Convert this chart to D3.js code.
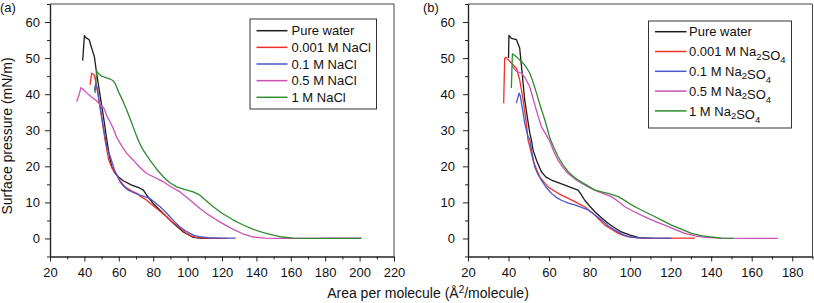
<!DOCTYPE html>
<html>
<head>
<meta charset="utf-8">
<script src="https://cdn.jsdelivr.net/npm/d3@7"></script>
<style>
  body { margin: 0; background: #fff; }
  svg { display: block; }
  text { font-family: Arial, "Liberation Sans", Helvetica, sans-serif; fill: #111; }
</style>
</head>
<body>
<div id="chart"></div>
<script>
// DATA //

// panel (a) NaCl  -- [area per molecule, surface pressure]
const waterA = [[39,49.3],[40,56.2],[41,55.6],[42.8,55.1],[44.2,52.8],[45.8,50.4],[47.1,45.8],[49,40],[51,34],[53,27.5],[54.5,23],[55.9,19.9],[57.5,18.3],[59.7,17.1],[62.6,16],[67.5,14.8],[72,14],[74.3,13.4],[76.2,12],[80,9.7],[85.9,6.9],[91.7,4.2],[97.5,1.8],[103.3,0.3],[108,0],[115,0]];
const redA = [[43.3,42.6],[44.2,45.8],[45.6,45.4],[46.4,44],[48.1,39.3],[50,33.5],[52,27.3],[54,22],[56,19.5],[58.8,17.6],[61,15.8],[63.6,14.3],[67,13.3],[70.4,12.5],[73,11.6],[76.2,10.6],[79,9.5],[82,8.3],[85,7.1],[87.8,6],[90.5,4.8],[93.6,3.7],[96.5,2.5],[99.5,1.4],[102,0.7],[105,0.3],[110,0.1],[116,0],[123,0]];
const blueA = [[45.8,41],[46.6,43],[47.5,41.5],[49,37],[51,31],[53,25.5],[55,22.7],[57.5,19],[60.7,15.7],[63,14.4],[65.5,13.4],[69,12.6],[72.3,12],[75,11.6],[78.1,11.1],[81,10],[84,8.8],[87,7.4],[89.8,6],[92.5,4.6],[95.6,3.2],[98.5,2.2],[101.4,1.4],[104,0.8],[107,0.5],[112,0.2],[120,0.1],[128,0.1]];
const pinkA = [[35.5,37.9],[37,40],[38,41.8],[39,41.5],[41,40.5],[44,39.3],[47,38.2],[50,36.8],[51.5,36],[53,34],[55,32.3],[56.8,30.5],[58.8,28],[61.5,25.8],[64.6,23.6],[68.4,21.7],[72,19.8],[76.2,18],[81,16.9],[85.9,15.7],[90,14.4],[95.6,12.9],[101,10.8],[107.2,8.3],[112,6.6],[116.9,5.1],[122,3.7],[126.6,2.5],[132,1.3],[138.2,0.4],[145,0.1],[152,0],[170,0],[185,0.1],[201,0.1]];
const greenA = [[46.2,40.3],[47.1,46.5],[48,45.8],[50,45],[52.5,44.6],[54.9,44.2],[56.5,43.8],[57.8,43],[60,40.5],[62.5,38],[64.6,35.6],[67.5,32],[70.4,28.3],[72.5,26],[74.2,24.5],[78.1,21.7],[82,19.2],[85.9,17.1],[89.5,15.5],[93.6,14.3],[98,13.6],[103.3,12.9],[107.2,12],[111,10.4],[114.9,8.8],[120,7],[126.6,5.1],[132,3.8],[138.2,2.5],[144,1.6],[149.8,0.9],[155,0.4],[161.5,0.1],[175,0],[190,0],[201,0]];

// panel (b) Na2SO4
const waterB = [[40,50],[40.2,56.3],[41.4,55.5],[43.9,55.1],[45.5,52.8],[46.4,47.7],[47.2,43],[48,38.4],[49.3,33.5],[50.5,29.2],[51.3,27.3],[52.1,24.5],[53.8,21.7],[56.2,18.5],[58.5,17],[61.2,16.2],[64.5,15.5],[67.8,14.8],[71,14.1],[74.3,13.4],[75.8,12.2],[77.6,10.6],[80,9],[82.6,7.4],[86,5.7],[89.1,4.2],[92.5,2.9],[95.7,1.8],[100,0.9],[104,0.3],[108,0.1],[111,0]];
const redB = [[37.6,37.5],[38.1,50],[38.8,50.2],[41.4,48.6],[43.9,47.2],[45.5,44],[47.2,38.4],[48.8,31.9],[49.6,27.3],[50.5,25.5],[52.1,21.7],[53.8,19.2],[55.4,17.1],[57.5,15.6],[59.5,14.3],[62.8,13.1],[66.1,12],[69.5,11.1],[72.7,10.2],[75,9.5],[77.6,8.8],[80,7.7],[82.6,6.5],[85,5.1],[87.5,3.7],[91,2.5],[94.1,1.4],[97.5,0.7],[100.7,0.3],[106,0.1],[115,0],[125,0.1],[132,0.1]];
const blueB = [[43.9,37.5],[45.2,40.3],[45.8,39.5],[47,35.5],[48,31.9],[49.5,28.5],[50.5,27.3],[51.5,24],[52.9,19.9],[54.5,17.8],[56.2,16.2],[58.5,14.2],[61.2,12.5],[63.5,11.4],[66.1,10.6],[69.5,9.8],[72.7,9.3],[76,8.6],[79.3,7.9],[82.5,6.6],[85.9,5.1],[89,3.6],[92.5,2.3],[96,1.2],[99,0.5],[104,0.2],[112,0.1],[120.4,0.1]];
const pinkB = [[41.7,47.9],[43.9,46.3],[46.4,45.8],[48,44.7],[50.5,42],[52,39],[53.5,36],[56.2,31],[58.3,29],[60.3,27],[62.3,24.2],[64.4,21.7],[66.8,19.7],[69.4,18],[72.5,16.6],[76,15.3],[79.3,14.3],[82.6,13.4],[86.5,12.5],[90.8,11.6],[94,10.3],[97.4,8.8],[102,7.4],[107.3,6],[112,4.8],[117.1,3.7],[122,2.5],[127,1.4],[132,0.7],[137,0.3],[145,0.1],[160,0],[172.8,0]];
const greenB = [[41.4,41.7],[41.9,51.2],[43.9,50.4],[45.5,49.5],[47.2,48.6],[49,47.2],[50.5,45.8],[52,43.5],[53.8,40.3],[55.8,36.5],[57.9,32.9],[60.3,28],[62.3,25.3],[64.4,22.7],[66.8,20.5],[69.4,18.5],[72,17.2],[74.3,16.2],[78.5,14.8],[82.6,13.4],[86,12.9],[89.1,12.5],[92,12],[94.1,11.6],[97.5,10.5],[100.7,9.3],[105.5,7.9],[110.6,6.5],[115.5,5.1],[120.4,3.7],[125.5,2.5],[130.3,1.4],[135,0.8],[140,0.4],[145,0.1],[151,0]];

const labelsA = ["Pure water", "0.001 M NaCl", "0.1 M NaCl", "0.5 M NaCl", "1 M NaCl"];
const labelsB = ["Pure water", "0.001 M Na2SO4", "0.1 M Na2SO4", "0.5 M Na2SO4", "1 M Na2SO4"];
const colors = ["#1c1c1c", "#f0302a", "#4a56cc", "#cc4fb8", "#2e8b2e"];

const yMajor = [0, 10, 20, 30, 40, 50, 60];
const yMinor = [-5, 5, 15, 25, 35, 45, 55, 65];
const xMajorA = [20, 40, 60, 80, 100, 120, 140, 160, 180, 200, 220];
const xMinorA = [30, 50, 70, 90, 110, 130, 150, 170, 190, 210];
const xMajorB = [20, 40, 60, 80, 100, 120, 140, 160, 180];
const xMinorB = [30, 50, 70, 90, 110, 130, 150, 170, 190];

// SETUP //

const W = 814, H = 303;
const top_ = 4, bottom_ = 256.5;
const font = 'Arial, "Liberation Sans", Helvetica, sans-serif';

let svg = d3.select("#chart")
    .append("svg")
    .attr("width", W)
    .attr("height", H);

// write text, digits right after a letter become subscripts (Na2SO4)
function subText(sel, str) {
    const parts = str.split(/(?<=[A-Za-z])(\d)/);
    parts.forEach((p, i) => {
        if (p === "") return;
        if (i % 2 === 1) {
            sel.append("tspan").attr("dy", 3.5).attr("font-size", 9.5).text(p);
            sel.append("tspan").attr("dy", -3.5).text("");
        } else {
            sel.append("tspan").text(p);
        }
    });
}

function drawPanel(p) {
    let g = svg.append("g");

    let x = d3.scaleLinear().domain(p.xDomain).range([p.left, p.right]);
    let y = d3.scaleLinear().domain([-5, 65]).range([bottom_, top_]);

    // frame top + right
    g.append("path")
        .attr("d", `M${p.left},${top_}H${p.right}V${bottom_}`)
        .attr("fill", "none")
        .attr("stroke", "#444")
        .attr("stroke-width", 1);

    // x axis
    g.append("g")
        .attr("transform", `translate(0,${bottom_})`)
        .call(d3.axisBottom(x).tickValues(p.xMinor).tickSize(3).tickFormat("").tickSizeOuter(0));
    let xa = g.append("g")
        .attr("transform", `translate(0,${bottom_})`)
        .call(d3.axisBottom(x).tickValues(p.xMajor).tickSize(5).tickPadding(6).tickSizeOuter(0));
    xa.attr("font-size", 13).attr("font-family", font);

    // y axis
    g.append("g")
        .attr("transform", `translate(${p.left},0)`)
        .call(d3.axisLeft(y).tickValues(yMinor).tickSize(3).tickFormat("").tickSizeOuter(0));
    let ya = g.append("g")
        .attr("transform", `translate(${p.left},0)`)
        .call(d3.axisLeft(y).tickValues(yMajor).tickSize(5).tickPadding(p.yPad).tickSizeOuter(0));
    ya.attr("font-size", 13).attr("font-family", font);

    g.selectAll(".domain").attr("stroke", "#222").attr("stroke-width", 1.2);
    g.selectAll(".tick line").attr("stroke", "#222");
    g.selectAll(".tick text").attr("fill", "#111");

    // curves
    let line = d3.line()
        .x(d => x(d[0]))
        .y(d => y(d[1]));

    p.series.forEach((s, i) => {
        g.append("path")
            .datum(s)
            .attr("d", line)
            .attr("fill", "none")
            .attr("stroke", colors[i])
            .attr("stroke-width", 1.3)
            .attr("stroke-linejoin", "round");
    });

    // legend
    let L = p.legend;
    g.append("rect")
        .attr("x", L.x0).attr("y", L.y0)
        .attr("width", L.x1 - L.x0).attr("height", L.y1 - L.y0)
        .attr("fill", "#fff")
        .attr("stroke", "#333")
        .attr("stroke-width", 1);

    p.labels.forEach((lab, i) => {
        let cy = L.first + i * L.step;
        g.append("line")
            .attr("x1", L.lx0).attr("x2", L.lx1)
            .attr("y1", cy).attr("y2", cy)
            .attr("stroke", colors[i])
            .attr("stroke-width", 1.5);
        let t = g.append("text")
            .attr("x", L.tx)
            .attr("y", cy + 4.6)
            .attr("font-size", 13);
        subText(t, lab);
    });

    // panel letter
    g.append("text")
        .attr("x", p.tagX)
        .attr("y", 11.5)
        .attr("font-size", 13)
        .text(p.tag);
}

drawPanel({
    tag: "(a)", tagX: 0,
    left: 50, right: 394, xDomain: [20, 220], yPad: 5,
    xMajor: xMajorA, xMinor: xMinorA,
    series: [waterA, redA, blueA, pinkA, greenA],
    labels: labelsA,
    legend: {x0: 250, x1: 376.5, y0: 19, y1: 109, lx0: 256.5, lx1: 287.5, tx: 291.5, first: 30.7, step: 16.65}
});

drawPanel({
    tag: "(b)", tagX: 423,
    left: 468, right: 812.5, xDomain: [20, 190], yPad: 8,
    xMajor: xMajorB, xMinor: xMinorB,
    series: [waterB, redB, blueB, pinkB, greenB],
    labels: labelsB,
    legend: {x0: 648.5, x1: 791.5, y0: 21, y1: 128, lx0: 655, lx1: 686.5, tx: 689, first: 31.7, step: 19.8}
});

// AXIS TITLES //

svg.append("text")
    .attr("transform", "translate(12,136) rotate(-90)")
    .attr("text-anchor", "middle")
    .attr("font-size", 14)
    .text("Surface pressure (mN/m)");

let xt = svg.append("text")
    .attr("x", 428)
    .attr("y", 298)
    .attr("text-anchor", "middle")
    .attr("font-size", 14);
xt.append("tspan").text("Area per molecule (Å");
xt.append("tspan").attr("dy", -5).attr("font-size", 10).text("2");
xt.append("tspan").attr("dy", 5).text("/molecule)");
</script>
</body>
</html>
